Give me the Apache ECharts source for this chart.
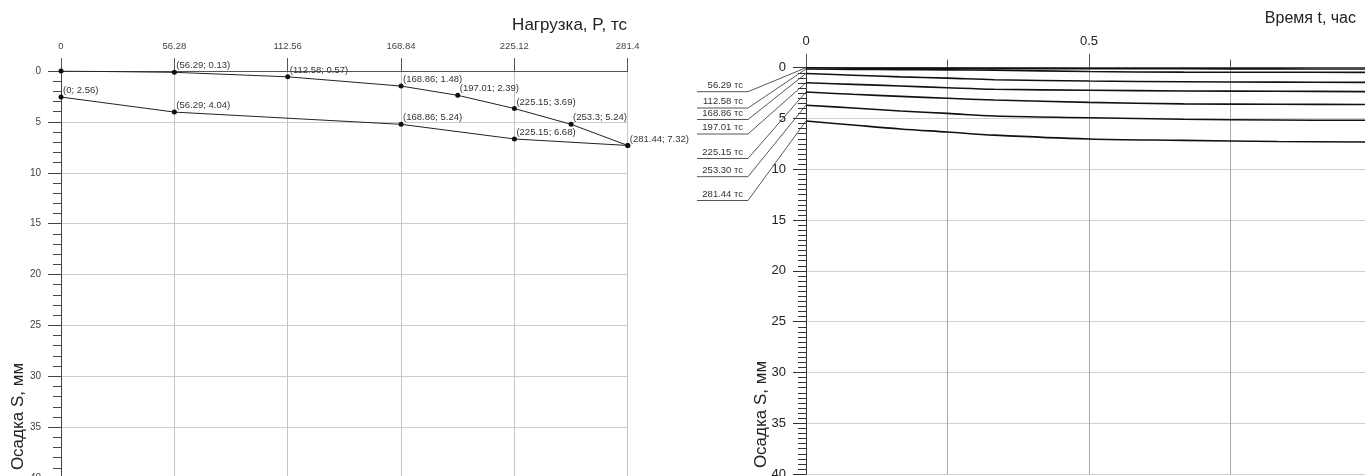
<!DOCTYPE html>
<html>
<head>
<meta charset="utf-8">
<script src="https://cdn.jsdelivr.net/npm/echarts@6/dist/echarts.min.js"></script>
<style>
html,body{margin:0;padding:0;background:#fff;}
#chart{width:1365px;height:476px;}
</style>
</head>
<body>
<div id="chart"></div>
<script>
// ---- Left panel: load vs settlement ----
const loadTicks = [0, 56.28, 112.56, 168.84, 225.12, 281.4];
const loadP   = [0, 56.29, 112.58, 168.86, 197.01, 225.15, 253.3, 281.44];
const loadS   = [0, 0.13, 0.57, 1.48, 2.39, 3.69, 5.24, 7.32];
const unloadP = [281.44, 225.15, 168.86, 56.29, 0];
const unloadS = [7.32, 6.68, 5.24, 4.04, 2.56];

// ---- Right panel: time vs settlement per load stage ----
const timeH = [0, 0.083, 0.167, 0.25, 0.333, 0.5, 0.667, 0.833, 1];
const stageLoads = [56.29, 112.58, 168.86, 197.01, 225.15, 253.3, 281.44];
const s056 = [0, 0.05, 0.06, 0.07, 0.08, 0.10, 0.11, 0.12, 0.13];
const s112 = [0.13, 0.16, 0.19, 0.21, 0.24, 0.38, 0.44, 0.45, 0.46];
const s168 = [0.57, 0.74, 0.90, 1.03, 1.18, 1.31, 1.38, 1.42, 1.45];
const s197 = [1.48, 1.64, 1.80, 1.97, 2.12, 2.22, 2.29, 2.32, 2.36];
const s225 = [2.39, 2.62, 2.82, 3.01, 3.18, 3.41, 3.56, 3.60, 3.63];
const s253 = [3.69, 3.97, 4.26, 4.50, 4.76, 4.92, 5.08, 5.15, 5.18];
const s281 = [5.24, 5.64, 6.03, 6.33, 6.64, 7.02, 7.15, 7.27, 7.32];
const stageCurves = [s056, s112, s168, s197, s225, s253, s281];

// layout of the leader-label underlines (pixel y), not data
const leaderY = [91.7, 108, 119.5, 134, 158.5, 176.7, 200.5];

const FONT = '"Liberation Sans", Arial, sans-serif';
const chart = echarts.init(document.getElementById('chart'), null, {renderer: 'canvas'});

const pairs = (xs, ys) => xs.map((x, i) => [x, ys[i]]);
const fmtPt = (x, y) => '(' + x + '; ' + y + ')';

const leftLabel = {
  show: true, position: 'right', distance: 0, offset: [-0.5, -6.5],
  fontSize: 9.5, color: '#333', fontFamily: FONT,
  formatter: p => fmtPt(p.value[0], p.value[1])
};

const loadData = pairs(loadP, loadS).map((v, i) => i === 0 ? {value: v, label: {show: false}} : v);
const unloadData = pairs(unloadP, unloadS).map((v, i) => i === 0 ? {value: v, label: {show: false}} : v);

const stageSeries = stageCurves.map((arr, i) => ({
  type: 'line', xAxisIndex: 1, yAxisIndex: 1,
  data: pairs(timeH, arr), showSymbol: false, smooth: 0.35,
  lineStyle: {color: '#111', width: 1.6}, silent: true, z: 3
}));

const leaderSeries = {
  type: 'custom', xAxisIndex: 1, yAxisIndex: 1, clip: false, silent: true, z: 4,
  data: stageCurves.map((arr, i) => [timeH[0], arr[0], i]),
  renderItem: function (params, api) {
    const idx = api.value(2);
    const p = api.coord([api.value(0), api.value(1)]);
    const uy = leaderY[idx];
    return {
      type: 'group',
      children: [
        {type: 'polyline', shape: {points: [[697, uy], [748, uy], [p[0], p[1]]]},
         style: {stroke: '#444', lineWidth: 0.9, fill: null}},
        {type: 'text', x: 743, y: uy - 1.5,
         style: {text: stageLoads[idx].toFixed(2) + ' тс', align: 'right', verticalAlign: 'bottom',
                 fontSize: 9.5, fill: '#333', fontFamily: FONT}}
      ]
    };
  }
};

const option = {
  backgroundColor: '#fff',
  animation: false,
  textStyle: {fontFamily: FONT},
  grid: [
    {left: 61, top: 71, width: 566.7, height: 407, containLabel: false, outerBoundsMode: 'none'},
    {left: 806, top: 67.7, width: 566, height: 406.4, containLabel: false, outerBoundsMode: 'none'}
  ],
  xAxis: [
    {
      gridIndex: 0, type: 'value', position: 'top', min: loadTicks[0], max: loadTicks[loadTicks.length - 1],
      interval: loadTicks[1],
      axisLine: {show: true, onZero: false, lineStyle: {color: '#555', width: 1}},
      axisTick: {show: true, length: 13, lineStyle: {color: '#555'}},
      axisLabel: {fontSize: 9.5, color: '#444', margin: 20, fontFamily: FONT,
        formatter: v => String(+v.toFixed(2))},
      splitLine: {show: true, lineStyle: {color: '#c6c6c6', width: 1}}
    },
    {
      gridIndex: 1, type: 'value', position: 'top', min: 0, max: 1, interval: 0.5,
      axisLine: {show: true, onZero: false, lineStyle: {color: '#555', width: 1}},
      axisTick: {show: true, length: 14, lineStyle: {color: '#555'}},
      minorTick: {show: true, splitNumber: 2, length: 8, lineStyle: {color: '#555'}},
      axisLabel: {fontSize: 13, color: '#222', margin: 20, fontFamily: FONT,
        formatter: v => String(+v.toFixed(2))},
      splitLine: {show: true, lineStyle: {color: '#a8a8a8', width: 1}},
      minorSplitLine: {show: true, lineStyle: {color: '#a8a8a8', width: 1}}
    }
  ],
  yAxis: [
    {
      gridIndex: 0, type: 'value', inverse: true, min: 0, max: 40, interval: 5,
      axisLine: {show: true, onZero: false, lineStyle: {color: '#444', width: 1}},
      axisTick: {show: true, length: 13, lineStyle: {color: '#444'}},
      minorTick: {show: true, splitNumber: 5, length: 8, lineStyle: {color: '#444'}},
      axisLabel: {fontSize: 10, color: '#444', margin: 20, fontFamily: FONT},
      splitLine: {show: true, lineStyle: {color: '#cccccc', width: 1}}
    },
    {
      gridIndex: 1, type: 'value', inverse: true, min: 0, max: 40, interval: 5,
      axisLine: {show: true, onZero: false, lineStyle: {color: '#333', width: 1}},
      axisTick: {show: true, length: 13, lineStyle: {color: '#333'}},
      minorTick: {show: true, splitNumber: 10, length: 8, lineStyle: {color: '#333'}},
      axisLabel: {fontSize: 13, color: '#222', margin: 20, fontFamily: FONT},
      splitLine: {show: true, lineStyle: {color: '#d0d0d0', width: 1}}
    }
  ],
  graphic: [
    {type: 'text', x: 627, y: 25, style: {text: 'Нагрузка, P, тс', align: 'right', verticalAlign: 'middle',
      fontSize: 17, fill: '#222', fontFamily: FONT}},
    {type: 'text', x: 1356, y: 19, style: {text: 'Время t, час', align: 'right', verticalAlign: 'middle',
      fontSize: 16, fill: '#222', fontFamily: FONT}},
    {type: 'text', x: 18, y: 416.5, rotation: Math.PI / 2, style: {text: 'Осадка S, мм', align: 'center',
      verticalAlign: 'middle', fontSize: 17, fill: '#222', fontFamily: FONT}},
    {type: 'text', x: 761, y: 414.5, rotation: Math.PI / 2, style: {text: 'Осадка S, мм', align: 'center',
      verticalAlign: 'middle', fontSize: 17, fill: '#222', fontFamily: FONT}}
  ],
  series: [
    {
      type: 'line', xAxisIndex: 0, yAxisIndex: 0, data: loadData,
      symbol: 'circle', symbolSize: 5, showAllSymbol: true,
      itemStyle: {color: '#111'}, lineStyle: {color: '#222', width: 1},
      label: leftLabel, silent: true, z: 3
    },
    {
      type: 'line', xAxisIndex: 0, yAxisIndex: 0, data: unloadData,
      symbol: 'circle', symbolSize: 5, showAllSymbol: true,
      itemStyle: {color: '#111'}, lineStyle: {color: '#222', width: 1},
      label: leftLabel, silent: true, z: 3
    }
  ].concat(stageSeries, [leaderSeries])
};
chart.setOption(option);
</script>
</body>
</html>
